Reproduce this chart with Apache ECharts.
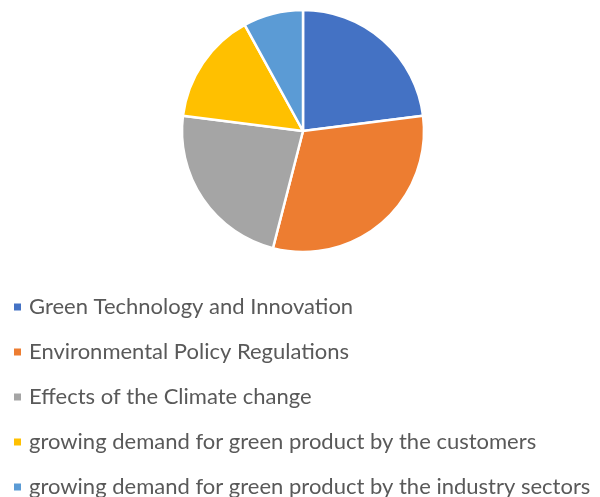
<!DOCTYPE html>
<html>
<head>
<meta charset="utf-8">
<script src="https://cdn.jsdelivr.net/npm/echarts@6/dist/echarts.min.js"></script>
<style>
  html, body { margin: 0; padding: 0; background: #fff; }
  #chart { width: 600px; height: 497px; }
</style>
</head>
<body>
<div id="chart"></div>
<script>
const categories = [
  "Green Technology and Innovation",
  "Environmental Policy Regulations",
  "Effects of the Climate change",
  "growing demand for green product by the customers",
  "growing demand for green product by the industry sectors",
];
const values = [23, 31, 23, 15, 8];
const colors = ["#4472C4", "#ED7D31", "#A5A5A5", "#FFC000", "#5B9BD5"];

const chart = echarts.init(document.getElementById("chart"));
chart.setOption({
  animation: false,
  color: colors,
  legend: {
    orient: "vertical",
    left: 12,
    top: 295,
    height: 400,
    padding: 0,
    itemWidth: 9,
    itemHeight: 9,
    itemGap: 21,
    icon: "rect",
    textStyle: {
      fontFamily: "Lato",
      fontSize: 22,
      lineHeight: 24,
      padding: [0, 0, 0, 2],
      color: "#595959",
    },
    data: categories,
  },
  series: [
    {
      type: "pie",
      center: [303, 131],
      radius: 121,
      startAngle: 90,
      clockwise: true,
      label: { show: false },
      labelLine: { show: false },
      itemStyle: { borderColor: "#fff", borderWidth: 2.5 },
      emphasis: { disabled: true },
      data: categories.map((name, i) => ({ name: name, value: values[i] })),
    },
  ],
});
</script>
</body>
</html>
